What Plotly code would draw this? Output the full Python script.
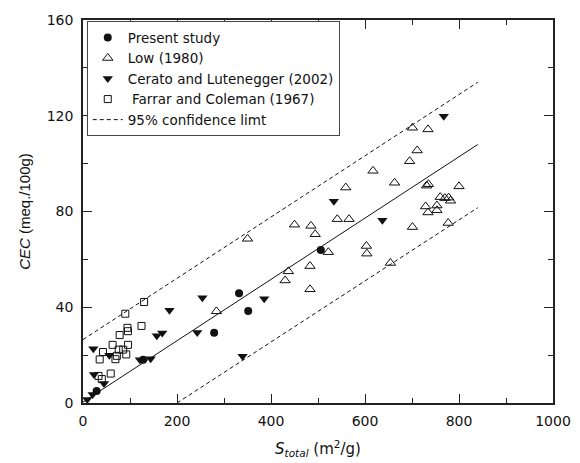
import plotly.graph_objects as go

# ---- data ----
present_x = [29, 128, 279, 332, 351.5, 506]
present_y = [5, 18.1, 29.3, 45.8, 38.4, 63.9]

low_x = [350, 284, 437, 430, 450, 485, 494, 483, 483, 522, 541, 566, 559, 603, 604,
         617, 654, 663, 695, 701, 711, 734, 701, 729, 731, 735, 734, 753, 753, 760,
         770, 778, 782, 777, 800]
low_y = [68.6, 38.3, 55, 51.2, 74.5, 74, 70.5, 57.2, 47.5, 63, 76.8, 76.8, 90, 65.6, 62.4,
         97, 58.5, 92, 101, 115, 105.5, 114.3, 73.5, 82.1, 90.8, 91.4, 79.6, 82.5, 80.5, 86,
         85.6, 85.8, 84.5, 75.2, 90.5]

cerato_x = [9, 20.5, 23.4, 44.7, 22, 56, 121, 144, 157, 168.6, 184, 243, 254, 339.5,
            385.5, 533.7, 637, 767.6]
cerato_y = [1.5, 3.6, 11.9, 8.1, 22.7, 19.9, 18.1, 18.5, 28.1, 29.2, 38.7, 29.5, 44, 19.5,
            43.6, 84.3, 76.3, 119.8]

farrar_x = [130, 90, 94.5, 95.7, 124.5, 78, 63, 95.7, 76, 85.5, 42.5, 72, 92, 35.5, 69,
            59, 33, 40]
farrar_y = [42.2, 37.3, 31.4, 30, 32.2, 28.4, 24.3, 24.3, 22.3, 22.3, 21.3, 19.7, 20.3,
            18.2, 18.3, 12.3, 11.3, 10]

# regression line and 95% confidence limits (end points)
fit_x = [0, 840]
fit_y = [0.4, 108]
upper_x = [0, 840]
upper_y = [26.5, 134]
lower_x = [200, 840]
lower_y = [0, 81.6]

x_ticks = [0, 200, 400, 600, 800, 1000]
y_ticks = [0, 40, 80, 120, 160]

FONT = "DejaVu Sans"
BLACK = "#111111"

fig = go.Figure()

fig.add_trace(go.Scatter(x=present_x, y=present_y, mode="markers", name="Present study",
                         marker=dict(symbol="circle", size=8, color=BLACK, line=dict(width=0)),
                         cliponaxis=False))
fig.add_trace(go.Scatter(x=low_x, y=low_y, mode="markers", name="Low (1980)",
                         marker=dict(symbol="triangle-up-open", size=9, color=BLACK,
                                     line=dict(width=1, color=BLACK)),
                         cliponaxis=False))
fig.add_trace(go.Scatter(x=cerato_x, y=cerato_y, mode="markers",
                         name="Cerato and Lutenegger (2002)",
                         marker=dict(symbol="triangle-down", size=9, color=BLACK, line=dict(width=0)),
                         cliponaxis=False))
fig.add_trace(go.Scatter(x=farrar_x, y=farrar_y, mode="markers",
                         name="\u00a0Farrar and Coleman (1967)",
                         marker=dict(symbol="square-open", size=7, color=BLACK,
                                     line=dict(width=1, color=BLACK)),
                         cliponaxis=False))
fig.add_trace(go.Scatter(x=upper_x, y=upper_y, mode="lines", name="95% confidence limt",
                         line=dict(color=BLACK, width=1, dash="4px,3px"), legendgroup="ci"))
fig.add_trace(go.Scatter(x=lower_x, y=lower_y, mode="lines", showlegend=False,
                         line=dict(color=BLACK, width=1, dash="4px,3px"), legendgroup="ci"))
fig.add_trace(go.Scatter(x=fit_x, y=fit_y, mode="lines", showlegend=False,
                         line=dict(color=BLACK, width=1)))

axis_common = dict(
    showgrid=False, zeroline=False, showline=True, linecolor="#222222", linewidth=1.5,
    mirror="allticks", ticks="inside", ticklen=9, tickwidth=1, tickcolor="#222222",
    tickfont=dict(family=FONT, size=14, color="#111111"),
)

fig.update_xaxes(range=[0, 1000], tickvals=x_ticks, ticktext=[str(v) for v in x_ticks],
                 ticklabelstandoff=4,
                 minor=dict(ticks="inside", dtick=100, ticklen=5, tickwidth=1, tickcolor="#222222"),
                 title=dict(text="<i>S</i><sub><i>total</i></sub> (m<sup>2</sup>/g)",
                            font=dict(family=FONT, size=15, color="#111111"), standoff=16),
                 **axis_common)
fig.update_yaxes(range=[0, 160], tickvals=y_ticks, ticktext=[str(v) for v in y_ticks],
                 ticklabelstandoff=5,
                 minor=dict(ticks="inside", dtick=20, ticklen=5, tickwidth=1, tickcolor="#222222"),
                 title=dict(text="<i>CEC</i> (meq./100g)",
                            font=dict(family="Liberation Sans", size=15, color="#111111"), standoff=12),
                 **axis_common)

fig.update_layout(
    width=580, height=463,
    margin=dict(l=83, r=27, t=19.5, b=60.3, autoexpand=False),
    paper_bgcolor="white", plot_bgcolor="white",
    showlegend=True,
    legend=dict(x=0.008, y=0.997, xanchor="left", yanchor="top",
                bgcolor="white", bordercolor="#444444", borderwidth=1,
                font=dict(family=FONT, size=13.5, color="#111111"),
                tracegroupgap=0, itemwidth=30),
)

fig.write_html("out.html")
